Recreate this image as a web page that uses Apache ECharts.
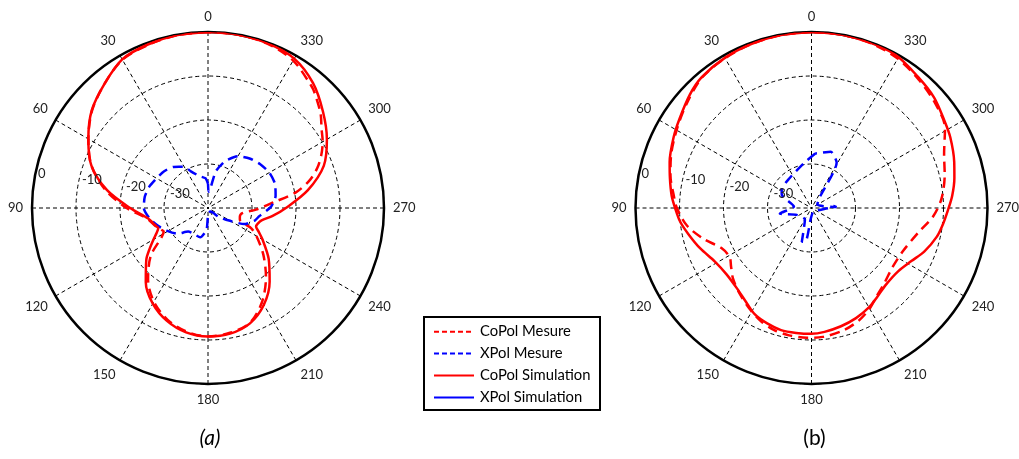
<!DOCTYPE html>
<html><head><meta charset="utf-8">
<script src="https://cdn.jsdelivr.net/npm/echarts@6/dist/echarts.min.js"></script>
<style>html,body{margin:0;padding:0;background:#fff}#c{width:1019px;height:459px}</style>
</head><body><div id="c"></div>
<script>
// ---- tick labels ----
const angleLabels = ['0','30','60','90','120','150','180','210','240','270','300','330'];
const radiusTickValues = [0, -10, -20, -30];
const radiusTickLabels = ['0', '-10', '-20', '-30'];
const legendNames = ['CoPol Mesure', 'XPol Mesure', 'CoPol Simulation', 'XPol Simulation'];
const captions = ['(a)', '(b)'];

// ---- plot (a) ----
const angA_sim = [0,10,20,30,40,50,60,70,80,90,100,105,110,112,116,120,125,130,140,150,160,170,180,190,200,210,220,230,240,245,249,253,257,263,270,280,290,300,310,320,330,340,350,360];
const simA     = [0,-0.1,-0.4,-1.0,-3.3,-5.5,-8.6,-11.8,-16.7,-22.3,-26.2,-27.0,-27.6,-27.8,-27.0,-25.7,-23.8,-21.7,-18.0,-14.9,-12.7,-11.3,-10.8,-11.0,-12.1,-14.6,-18.2,-22.0,-25.7,-27.3,-28.3,-28.1,-27.5,-25.2,-22.3,-17.0,-12.0,-8.8,-5.9,-2.9,-0.8,-0.2,0,0];
const angA_mes = [0,10,20,30,40,50,60,70,80,90,100,110,115,118,122,130,140,150,160,170,180,190,200,210,220,230,240,245,250,255,262,268,275,280,285,290,295,300,305,310,317,320,330,340,350,360];
const mesA     = [0,-0.1,-0.5,-1.1,-3.3,-5.6,-8.6,-11.8,-16.3,-21.5,-26.0,-27.5,-28.3,-28.6,-27.6,-23.0,-18.8,-15.4,-13.0,-11.5,-10.8,-11.2,-12.2,-15.4,-19.5,-23.6,-27.3,-29.2,-32.3,-32.5,-32.0,-29.1,-25.0,-19.8,-16.2,-13.6,-11.6,-9.9,-8.5,-6.6,-4.4,-3.6,-1.3,-0.3,0,0];
const angA_x   = [0,5,15,25,30,40,50,60,70,80,90,100,110,120,130,140,150,165,176,180,190,215,230,237,246,255,261,271,280,290,300,310,320,330,340,348,353,358,360];
const xA       = [-34.5,-33.2,-32.5,-30.8,-29.2,-27.8,-27.0,-26.5,-25.8,-25.4,-25.4,-26.5,-28.0,-29.5,-30.9,-33.0,-33.3,-33.1,-35.0,-38.5,-39.0,-39.0,-37.0,-35.1,-31.0,-29.0,-28.2,-25.7,-24.4,-23.8,-23.9,-24.5,-25.3,-26.4,-28.7,-31.5,-35.5,-36.3,-34.5];
const angA_xs  = [];
const xsA      = [];

// ---- plot (b) ----
const angB_sim = [0,10,20,30,40,47,56,63,72,78,85,90,96,102,110,119,128,137,145,152,159,166,173,180,186,194,202,210,216,224,234,242,249,257,263,269,275,282,288,297,303,312,321,331,340,350,360];
const simB     = [0,-0.1,-0.3,-0.6,-1.2,-2.2,-3.8,-4.8,-6.1,-7.1,-8.1,-9.0,-10.0,-11.4,-13.1,-14.9,-15.5,-15.1,-14.0,-12.6,-11.9,-11.4,-11.4,-11.4,-11.7,-12.3,-13.0,-13.9,-14.8,-15.7,-15.6,-14.3,-12.5,-10.8,-9.9,-9.0,-7.9,-6.8,-5.9,-4.6,-3.9,-2.5,-1.6,-0.3,-0.1,0,0];
const angB_mes = [0,10,20,30,40,50,60,70,77,85,90,98,106,114,121,126,132,140,149,156,163,170,178,185,195,203,210,216,224,234,245,257,266,274,284,292,301,310,320,330,340,350,360];
const mesB     = [0,-0.1,-0.3,-0.7,-1.3,-3.0,-4.6,-6.0,-7.1,-8.6,-9.4,-11.4,-14.5,-17.6,-18.3,-17.4,-16.0,-14.6,-13.0,-11.8,-11.0,-10.6,-10.5,-10.6,-11.3,-12.3,-13.6,-15.0,-16.2,-17.2,-17.0,-15.1,-12.3,-10.4,-8.8,-7.5,-4.6,-3.2,-2.0,-0.8,-0.2,0,0];
const angB_x   = [356,10,37,58,66,85,100,115,150,164,171,175,200,250,270,275,272,300,323,331,341,356];
const xB       = [-27.6,-29.7,-31.6,-32.0,-32.6,-36.0,-32.7,-36.3,-37.0,-32.0,-32.7,-37.2,-39.0,-38.5,-36.0,-35.0,-34.3,-38.5,-36.8,-28.2,-26.5,-27.6];
const angB_xs  = [];
const xsB      = [];

const FONT = 'Lato';
const RED = '#ff0000', BLUE = '#0000ff';
const pairs = (vals, angs) => vals.map((v, i) => [v, angs[i]]);

function angleAxis(i) {
  return {
    polarIndex: i, type: 'value', min: 0, max: 360, interval: 30,
    startAngle: 90, clockwise: false,
    axisLine: { lineStyle: { color: '#000', width: 2.5 } },
    axisTick: { show: false },
    axisLabel: { margin: 9, color: '#222', fontFamily: FONT, fontSize: 13,
      formatter: v => angleLabels[Math.round(v / 30)] || '' },
    splitLine: { lineStyle: { color: '#000', width: 1, type: [4, 3] } }
  };
}
function radiusAxis(i) {
  return {
    polarIndex: i, type: 'value', min: -40, max: 0, interval: 10,
    axisLine: { show: false }, axisTick: { show: false }, axisLabel: { show: false },
    splitLine: { lineStyle: { color: '#000', width: 1, type: [4, 3] } }
  };
}
const styles = [
  { color: RED,  dash: [10, 6], legendDash: [5, 3] },
  { color: BLUE, dash: [10, 6], legendDash: [5, 3] },
  { color: RED,  dash: 'solid', legendDash: null },
  { color: BLUE, dash: 'solid', legendDash: null }
];
function seriesFor(i, sim, angSim, mes, angMes, xm, angXm, xs, angXs) {
  const dataSets = [pairs(mes, angMes), pairs(xm, angXm), pairs(sim, angSim), pairs(xs, angXs)];
  return dataSets.map((d, k) => ({
    type: 'line', coordinateSystem: 'polar', polarIndex: i, symbol: 'none', silent: true,
    name: legendNames[k], data: d, smooth: k === 1 ? 0.2 : 0.3,
    lineStyle: { color: styles[k].color, width: 2.5, type: styles[k].dash },
    itemStyle: { color: styles[k].color }, z: k >= 2 ? 4 : 3
  }));
}

const chart = echarts.init(document.getElementById('c'));
const option = {
  animation: false,
  backgroundColor: '#fff',
  polar: [
    { center: [208, 208], radius: 176 },
    { center: [811.5, 208], radius: 176 }
  ],
  angleAxis: [angleAxis(0), angleAxis(1)],
  radiusAxis: [radiusAxis(0), radiusAxis(1)],
  series: [].concat(
    seriesFor(0, simA, angA_sim, mesA, angA_mes, xA, angA_x, xsA, angA_xs),
    seriesFor(1, simB, angB_sim, mesB, angB_mes, xB, angB_x, xsB, angB_xs)
  )
};
chart.setOption(option);

// radius tick labels, captions and legend box
const g = [];
[0, 1].forEach(pi => {
  const si = pi * 4 + 2;
  const c = chart.convertToPixel({ seriesIndex: si }, [-40, 0]);
  radiusTickValues.forEach((v, k) => {
    const p = chart.convertToPixel({ seriesIndex: si }, [v, 90]);
    const r = Math.hypot(p[0] - c[0], p[1] - c[1]);
    g.push({ type: 'text', x: p[0] + 6, y: p[1] - (8 + 0.15 * r), z: 10,
      style: { text: radiusTickLabels[k], fill: '#222', fontFamily: FONT, fontSize: 13, align: 'left', verticalAlign: 'middle' } });
  });
  const bottom = chart.convertToPixel({ seriesIndex: si }, [0, 180]);
  g.push({ type: 'text', x: c[0] + (pi ? 3 : 2), y: bottom[1] + 54, z: 10,
    style: { text: captions[pi], fill: '#000', fontFamily: FONT, fontSize: 21, fontStyle: pi ? 'normal' : 'italic', align: 'center', verticalAlign: 'middle' } });
});
// legend
const LX = 424, LY = 317, LW = 176, LH = 93, ROW = 21.9;
g.push({ type: 'rect', z: 20, shape: { x: LX, y: LY, width: LW, height: LH },
  style: { fill: '#fff', stroke: '#000', lineWidth: 2 } });
legendNames.forEach((n, k) => {
  const y = LY + 14.7 + k * ROW;
  g.push({ type: 'line', z: 21, shape: { x1: LX + 10, y1: y, x2: LX + 50, y2: y },
    style: { stroke: styles[k].color, lineWidth: 2, lineDash: styles[k].legendDash } });
  g.push({ type: 'text', z: 21, x: LX + 56, y: y,
    style: { text: n, fill: '#000', fontFamily: FONT, fontSize: 14.8, align: 'left', verticalAlign: 'middle' } });
});
chart.setOption({ graphic: g });
</script></body></html>
